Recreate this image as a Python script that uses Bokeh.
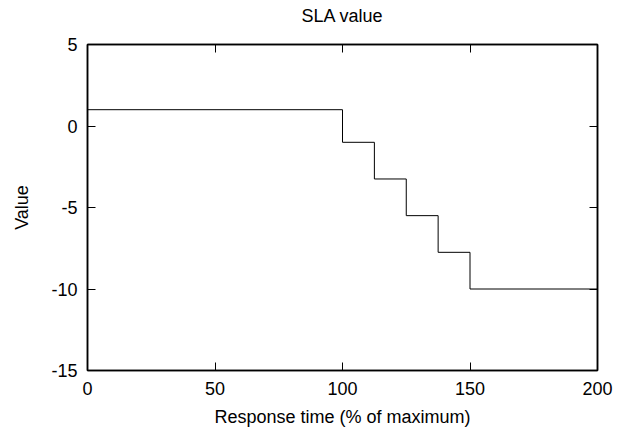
from bokeh.plotting import figure
from bokeh.models import LinearAxis, FixedTicker, Title
from bokeh.embed import file_html
from bokeh.resources import INLINE

# data
response_time = [0, 100, 112.5, 125, 137.5, 150, 200]
sla_value = [1, -1, -3.25, -5.5, -7.75, -10, -10]
x_ticks = [0, 50, 100, 150, 200]
y_ticks = [-15, -10, -5, 0, 5]
title_text = "SLA value"

FONT = "Liberation Sans"
FS = "18px"

p = figure(width=618, height=429, x_range=(x_ticks[0], x_ticks[-1]), y_range=(y_ticks[0], y_ticks[-1]),
           output_backend="svg", toolbar_location=None, title_location=None,
           min_border_left=87, min_border_right=21, min_border_top=44, min_border_bottom=59)

p.step(response_time, sla_value, mode="after", line_color="black", line_width=1)

p.grid.visible = False
p.outline_line_color = "black"
p.outline_line_width = 1.5

for ax in (p.xaxis[0], p.yaxis[0]):
    ax.major_tick_in = 8
    ax.major_tick_out = 0
    ax.minor_tick_line_color = None
    ax.axis_line_width = 1.5
    ax.axis_line_color = "black"
    ax.major_tick_line_color = "black"
    ax.major_label_text_font = FONT
    ax.major_label_text_font_size = FS
    ax.major_label_text_color = "black"
    ax.axis_label_text_font = FONT
    ax.axis_label_text_font_size = FS
    ax.axis_label_text_font_style = "normal"
    ax.axis_label_text_color = "black"

p.xaxis[0].ticker = FixedTicker(ticks=x_ticks)
p.yaxis[0].ticker = FixedTicker(ticks=y_ticks)
p.xaxis[0].major_label_overrides = {t: str(t) for t in x_ticks}
p.yaxis[0].major_label_overrides = {t: str(t) for t in y_ticks}
p.xaxis[0].axis_label = "Response time (% of maximum)"
p.yaxis[0].axis_label = "Value"
p.xaxis[0].major_label_standoff = 11
p.yaxis[0].major_label_standoff = 10
p.xaxis[0].axis_label_standoff = 9
p.yaxis[0].axis_label_standoff = 16

# mirrored tick marks on top and right
for side, ticks in (("above", x_ticks), ("right", y_ticks)):
    ax = LinearAxis(ticker=FixedTicker(ticks=ticks))
    ax.major_tick_in = 8
    ax.major_tick_out = 0
    ax.minor_tick_line_color = None
    ax.axis_line_width = 1.5
    ax.major_label_text_color = None
    ax.major_label_text_font_size = "1px"
    ax.major_label_standoff = 0
    p.add_layout(ax, side)

# invisible spacer between frame and title
spacer = LinearAxis(ticker=FixedTicker(ticks=x_ticks))
spacer.axis_line_color = None
spacer.major_tick_line_color = None
spacer.minor_tick_line_color = None
spacer.major_tick_in = 0
spacer.major_tick_out = 19
spacer.major_label_text_color = None
spacer.major_label_text_font_size = "1px"
spacer.major_label_standoff = 0
p.add_layout(spacer, "above")

title = Title(text=title_text, align="center", text_font=FONT, text_font_size=FS,
              text_font_style="normal", text_color="black", standoff=0)
p.add_layout(title, "above")

open("out.html", "w").write(file_html(p, INLINE))
